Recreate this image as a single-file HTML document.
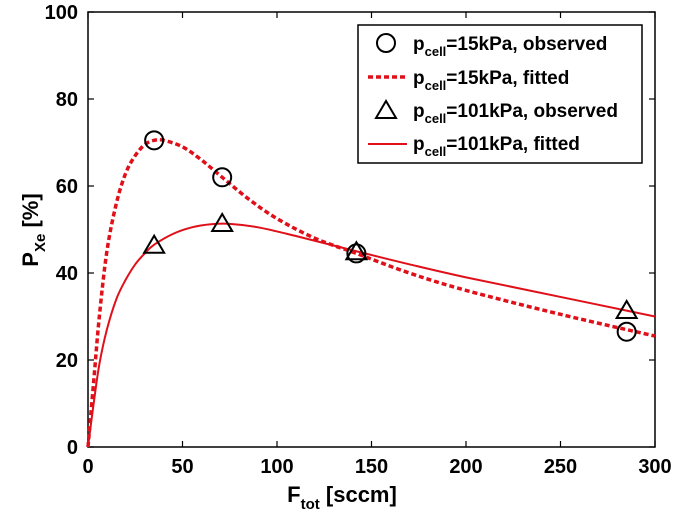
<!DOCTYPE html>
<html><head><meta charset="utf-8"><style>
body{margin:0;background:#fff;}
svg{display:block;font-family:"Liberation Sans",Arial,sans-serif;font-weight:bold;}
</style></head><body>
<svg id="chart" width="675" height="518" viewBox="0 0 675 518">
<rect x="88" y="12" width="567" height="435" fill="#fff" stroke="#000" stroke-width="1.5"/>
<g id="ticks"></g>
<g id="series"></g>
<text x="342" y="502" font-size="22" text-anchor="middle">F<tspan font-size="15" dy="7">tot</tspan><tspan dy="-7"> [sccm]</tspan></text>
<text transform="translate(38,230) rotate(-90)" font-size="22" text-anchor="middle">P<tspan font-size="15" dy="7">Xe</tspan><tspan dy="-7"> [%]</tspan></text>
<g>
<rect x="358" y="25" width="284" height="138" fill="#fff" stroke="#000" stroke-width="1.5"/>
<circle cx="386" cy="43" r="9" fill="none" stroke="#000" stroke-width="2"/>
<text x="413" y="50" font-size="19">p<tspan font-size="13" dy="6">cell</tspan><tspan dy="-6">=15kPa, observed</tspan></text>
<line x1="368" y1="77" x2="407" y2="77" stroke="#e0101a" stroke-width="3.5" stroke-dasharray="5,3"/>
<text x="413" y="84" font-size="19">p<tspan font-size="13" dy="6">cell</tspan><tspan dy="-6">=15kPa, fitted</tspan></text>
<path d="M376,118 L386,101 L396,118 Z" fill="none" stroke="#000" stroke-width="2"/>
<text x="413" y="117" font-size="19">p<tspan font-size="13" dy="6">cell</tspan><tspan dy="-6">=101kPa, observed</tspan></text>
<line x1="368" y1="144" x2="407" y2="144" stroke="#e0101a" stroke-width="2"/>
<text x="413" y="150" font-size="19">p<tspan font-size="13" dy="6">cell</tspan><tspan dy="-6">=101kPa, fitted</tspan></text>
</g>
</svg>
<script>
const xTicks=[0,50,100,150,200,250,300];
const yTicks=[0,20,40,60,80,100];
const obsX=[35,71,142,285];
const obs15=[70.5,62,44.5,26.5];
const obs101=[46.5,51.5,45,31.5];
const fit15X=[0,3,6,10,15,20,25,30,35,40,50,60,71,85,100,120,142,170,200,250,300];
const fit15Y=[0,15,30,45,56,63,67,69.5,70.5,70.5,69,66,62,57,52.5,48,44.5,40,36,30.5,25.5];
const fit101X=[0,3,6,10,15,20,25,30,35,45,55,65,75,90,110,142,170,200,250,300];
const fit101Y=[0,10,19,27,34,38.5,42,44.5,46.5,49,50.5,51.2,51.3,50.5,48.5,45,42,39,34.5,30];
const NS='http://www.w3.org/2000/svg';
const sx=v=>88+v*567/300, sy=v=>447-v*4.35;
const tg=document.getElementById('ticks'), sg=document.getElementById('series');
function mk(tag,attrs,parent){const e=document.createElementNS(NS,tag);for(const k in attrs)e.setAttribute(k,attrs[k]);parent.appendChild(e);return e;}
xTicks.forEach(t=>{
 const l=mk('line',{x1:sx(t),x2:sx(t),y1:447,y2:441,stroke:'#000','stroke-width':1.2},tg);
 
 
 const l2=mk('line',{x1:sx(t),x2:sx(t),y1:12,y2:18,stroke:'#000','stroke-width':1.2},tg);
 
 
 const tx=mk('text',{x:sx(t),y:473,'font-size':20,'text-anchor':'middle'},tg);tx.textContent=t;
 
 
});
yTicks.forEach(t=>{
 const l=mk('line',{x1:88,x2:94,y1:sy(t),y2:sy(t),stroke:'#000','stroke-width':1.2},tg);
 
 
 const l2=mk('line',{x1:655,x2:649,y1:sy(t),y2:sy(t),stroke:'#000','stroke-width':1.2},tg);
 
 
 const tx=mk('text',{x:78,y:sy(t)+7,'font-size':20,'text-anchor':'end'},tg);tx.textContent=t;
 
 
});
function curve(xs,ys){const p=xs.map((x,i)=>[sx(x),sy(ys[i])]);let d='M'+p[0];for(let i=0;i<p.length-1;i++){const p0=p[i-1]||p[i],p1=p[i],p2=p[i+1],p3=p[i+2]||p2;const c1=[p1[0]+(p2[0]-p0[0])/6,p1[1]+(p2[1]-p0[1])/6],c2=[p2[0]-(p3[0]-p1[0])/6,p2[1]-(p3[1]-p1[1])/6];d+=' C'+c1+' '+c2+' '+p2;}return d;}
const c101=mk('path',{d:curve(fit101X,fit101Y),fill:'none',stroke:'#e0101a','stroke-width':2},sg);


const c15=mk('path',{d:curve(fit15X,fit15Y),fill:'none',stroke:'#e0101a','stroke-width':3.5,'stroke-dasharray':'5,3'},sg);


obsX.forEach((x,i)=>{
 const c=mk('circle',{cx:sx(x),cy:sy(obs15[i]),r:9,fill:'none',stroke:'#000','stroke-width':2},sg);
 
 
 const X=sx(x),Y=sy(obs101[i]);
 const t=mk('path',{d:`M${X-10},${Y+8} L${X},${Y-9} L${X+10},${Y+8} Z`,fill:'none',stroke:'#000','stroke-width':2},sg);
 
 
});
</script>
</body></html>
